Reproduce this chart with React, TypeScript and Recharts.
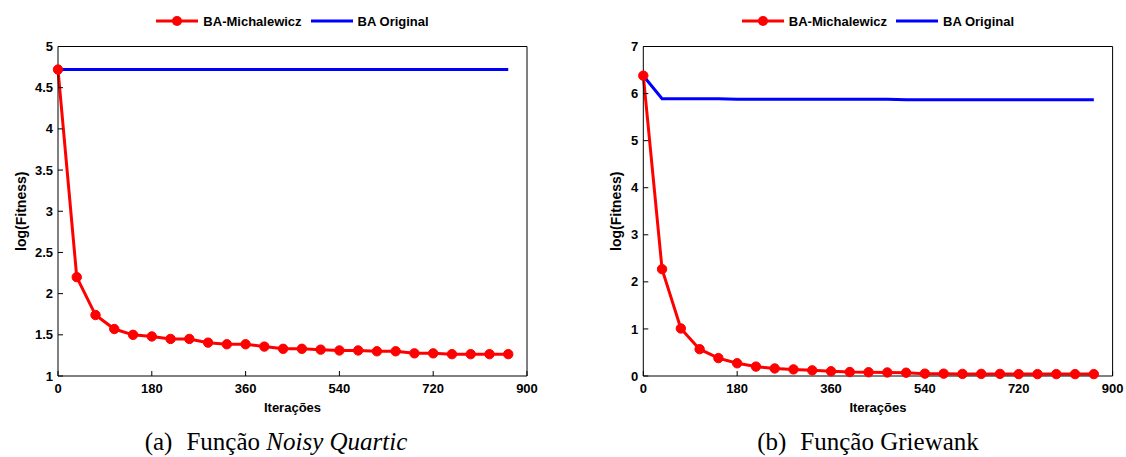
import React from 'react';
import { LineChart, Line, XAxis, YAxis, Legend } from 'recharts';

const FONT = '"Liberation Sans", Arial, Helvetica, sans-serif';
const SERIF = '"Liberation Serif", Tinos, "Times New Roman", Times, "Nimbus Roman", FreeSerif, serif';

const iteracoes = [0, 36, 72, 108, 144, 180, 216, 252, 288, 324, 360, 396, 432, 468, 504, 540, 576, 612, 648, 684, 720, 756, 792, 828, 864];
const xTicks = [0, 180, 360, 540, 720, 900];
const seriesOrder = ['mich', 'orig'];

// (a) Noisy Quartic
const quarticMichalewicz = [4.72, 2.2, 1.74, 1.57, 1.5, 1.48, 1.45, 1.45, 1.405, 1.385, 1.385, 1.357, 1.33, 1.33, 1.32, 1.31, 1.31, 1.3, 1.3, 1.275, 1.275, 1.265, 1.265, 1.265, 1.265];
const quarticOriginal = [4.72, 4.72, 4.72, 4.72, 4.72, 4.72, 4.72, 4.72, 4.72, 4.72, 4.72, 4.72, 4.72, 4.72, 4.72, 4.72, 4.72, 4.72, 4.72, 4.72, 4.72, 4.72, 4.72, 4.72, 4.72];
const quarticYTicks = [1, 1.5, 2, 2.5, 3, 3.5, 4, 4.5, 5];

// (b) Griewank
const griewankMichalewicz = [6.38, 2.27, 1.01, 0.57, 0.38, 0.27, 0.2, 0.16, 0.14, 0.12, 0.1, 0.085, 0.08, 0.075, 0.07, 0.05, 0.05, 0.045, 0.045, 0.045, 0.04, 0.04, 0.04, 0.04, 0.04];
const griewankOriginal = [6.38, 5.89, 5.89, 5.89, 5.89, 5.88, 5.88, 5.88, 5.88, 5.88, 5.88, 5.88, 5.88, 5.88, 5.87, 5.87, 5.87, 5.87, 5.87, 5.87, 5.87, 5.87, 5.87, 5.87, 5.87];
const griewankYTicks = [0, 1, 2, 3, 4, 5, 6, 7];

const quarticData = iteracoes.map((it, i) => ({ it, mich: quarticMichalewicz[i], orig: quarticOriginal[i] }));
const griewankData = iteracoes.map((it, i) => ({ it, mich: griewankMichalewicz[i], orig: griewankOriginal[i] }));

const tickStyle = { fontSize: 13, fontWeight: 'bold', fill: '#000', fontFamily: FONT };

const renderLegend = (props: any) => {
  const payload = [...(props.payload || [])].sort((a: any, b: any) => seriesOrder.indexOf(a.dataKey) - seriesOrder.indexOf(b.dataKey));
  return (
    <div style={{ display: 'flex', justifyContent: 'center', alignItems: 'center', height: 20, fontFamily: FONT, fontSize: 13, fontWeight: 'bold', color: '#000' }}>
      {payload.map((entry: any, i: number) => (
        <div key={i} style={{ display: 'flex', alignItems: 'center', marginLeft: i ? 9 : 0 }}>
          <svg width={42} height={12}>
            <line x1={0} y1={6} x2={42} y2={6} stroke={entry.color} strokeWidth={3} />
            {entry.dataKey === 'mich' && <circle cx={21} cy={6} r={5} fill={entry.color} />}
          </svg>
          <span style={{ marginLeft: 5 }}>{entry.value}</span>
        </div>
      ))}
    </div>
  );
};

interface PanelProps {
  data: { it: number; mich: number; orig: number }[];
  yTicks: number[];
  width: number;
  marginLeft: number;
  marginRight: number;
  yLabelDx: number;
}

function Panel({ data, yTicks, width, marginLeft, marginRight, yLabelDx }: PanelProps) {
  const yDomain = [yTicks[0], yTicks[yTicks.length - 1]];
  const plotLeft = marginLeft + 45;
  const plotWidth = width - plotLeft - marginRight - 1;
  return (
    <LineChart width={width} height={420} data={data} margin={{ top: 25.5, right: marginRight, bottom: 14, left: marginLeft }}>
      <Legend verticalAlign="top" content={renderLegend} wrapperStyle={{ top: 11, left: plotLeft, width: plotWidth }} />
      <XAxis
        xAxisId="b"
        dataKey="it"
        type="number"
        domain={[0, 900]}
        ticks={xTicks}
        interval={0}
        height={30}
        tickSize={-5}
        tickMargin={13}
        stroke="#000"
        tick={tickStyle}
        label={(p: any) => {
          const vb = p.viewBox;
          return (
            <text x={vb.x + vb.width / 2} y={vb.y + 31} textAnchor="middle" dominantBaseline="central" style={{ fontFamily: FONT, fontSize: 13, fontWeight: 'bold' }} fill="#000">
              Iterações
            </text>
          );
        }}
      />
      <XAxis xAxisId="t" orientation="top" dataKey="it" type="number" domain={[0, 900]} ticks={xTicks} interval={0} height={1} tickSize={-5} tick={false} stroke="#000" />
      <YAxis
        yAxisId="l"
        type="number"
        domain={yDomain}
        ticks={yTicks}
        interval={0}
        width={45}
        tickSize={-5}
        tickMargin={10}
        stroke="#000"
        tick={tickStyle}
        label={(p: any) => {
          const vb = p.viewBox;
          const x = vb.x + yLabelDx;
          const y = vb.y + vb.height / 2;
          return (
            <text x={x} y={y} transform={`rotate(-90 ${x} ${y})`} textAnchor="middle" dominantBaseline="central" style={{ fontFamily: FONT, fontSize: 14, fontWeight: 'bold' }} fill="#000">
              log(Fitness)
            </text>
          );
        }}
      />
      <YAxis yAxisId="r" orientation="right" type="number" domain={yDomain} ticks={yTicks} interval={0} width={1} tickSize={-5} tick={false} stroke="#000" />
      <Line xAxisId="b" yAxisId="l" dataKey="mich" name="BA-Michalewicz" stroke="#ff0000" strokeWidth={3} dot={{ r: 4.7, fill: '#ff0000', stroke: '#ff0000', strokeWidth: 1 }} isAnimationActive={false} />
      <Line xAxisId="b" yAxisId="l" dataKey="orig" name="BA Original" stroke="#0000ff" strokeWidth={3} dot={false} isAnimationActive={false} />
    </LineChart>
  );
}

const captionStyle: React.CSSProperties = { position: 'absolute', width: 400, top: 429, textAlign: 'center', fontFamily: SERIF, fontSize: 25, lineHeight: '25px', whiteSpace: 'pre', color: '#000' };

export default function App() {
  return (
    <div style={{ position: 'absolute', left: 0, top: 0, width: 1126, height: 457, background: '#fff', overflow: 'hidden' }}>
      <div style={{ position: 'absolute', left: 0, top: 0 }}>
        <Panel data={quarticData} yTicks={quarticYTicks} width={563} marginLeft={13} marginRight={35} yLabelDx={8} />
      </div>
      <div style={{ position: 'absolute', left: 563, top: 0 }}>
        <Panel data={griewankData} yTicks={griewankYTicks} width={563} marginLeft={35.3} marginRight={12.4} yLabelDx={18} />
      </div>
      <div style={{ ...captionStyle, left: 76 }}>
        <span style={{ marginRight: 14 }}>(a)</span>Função <i>Noisy Quartic</i>
      </div>
      <div style={{ ...captionStyle, left: 668 }}>
        <span style={{ marginRight: 14 }}>(b)</span>Função Griewank
      </div>
    </div>
  );
}
